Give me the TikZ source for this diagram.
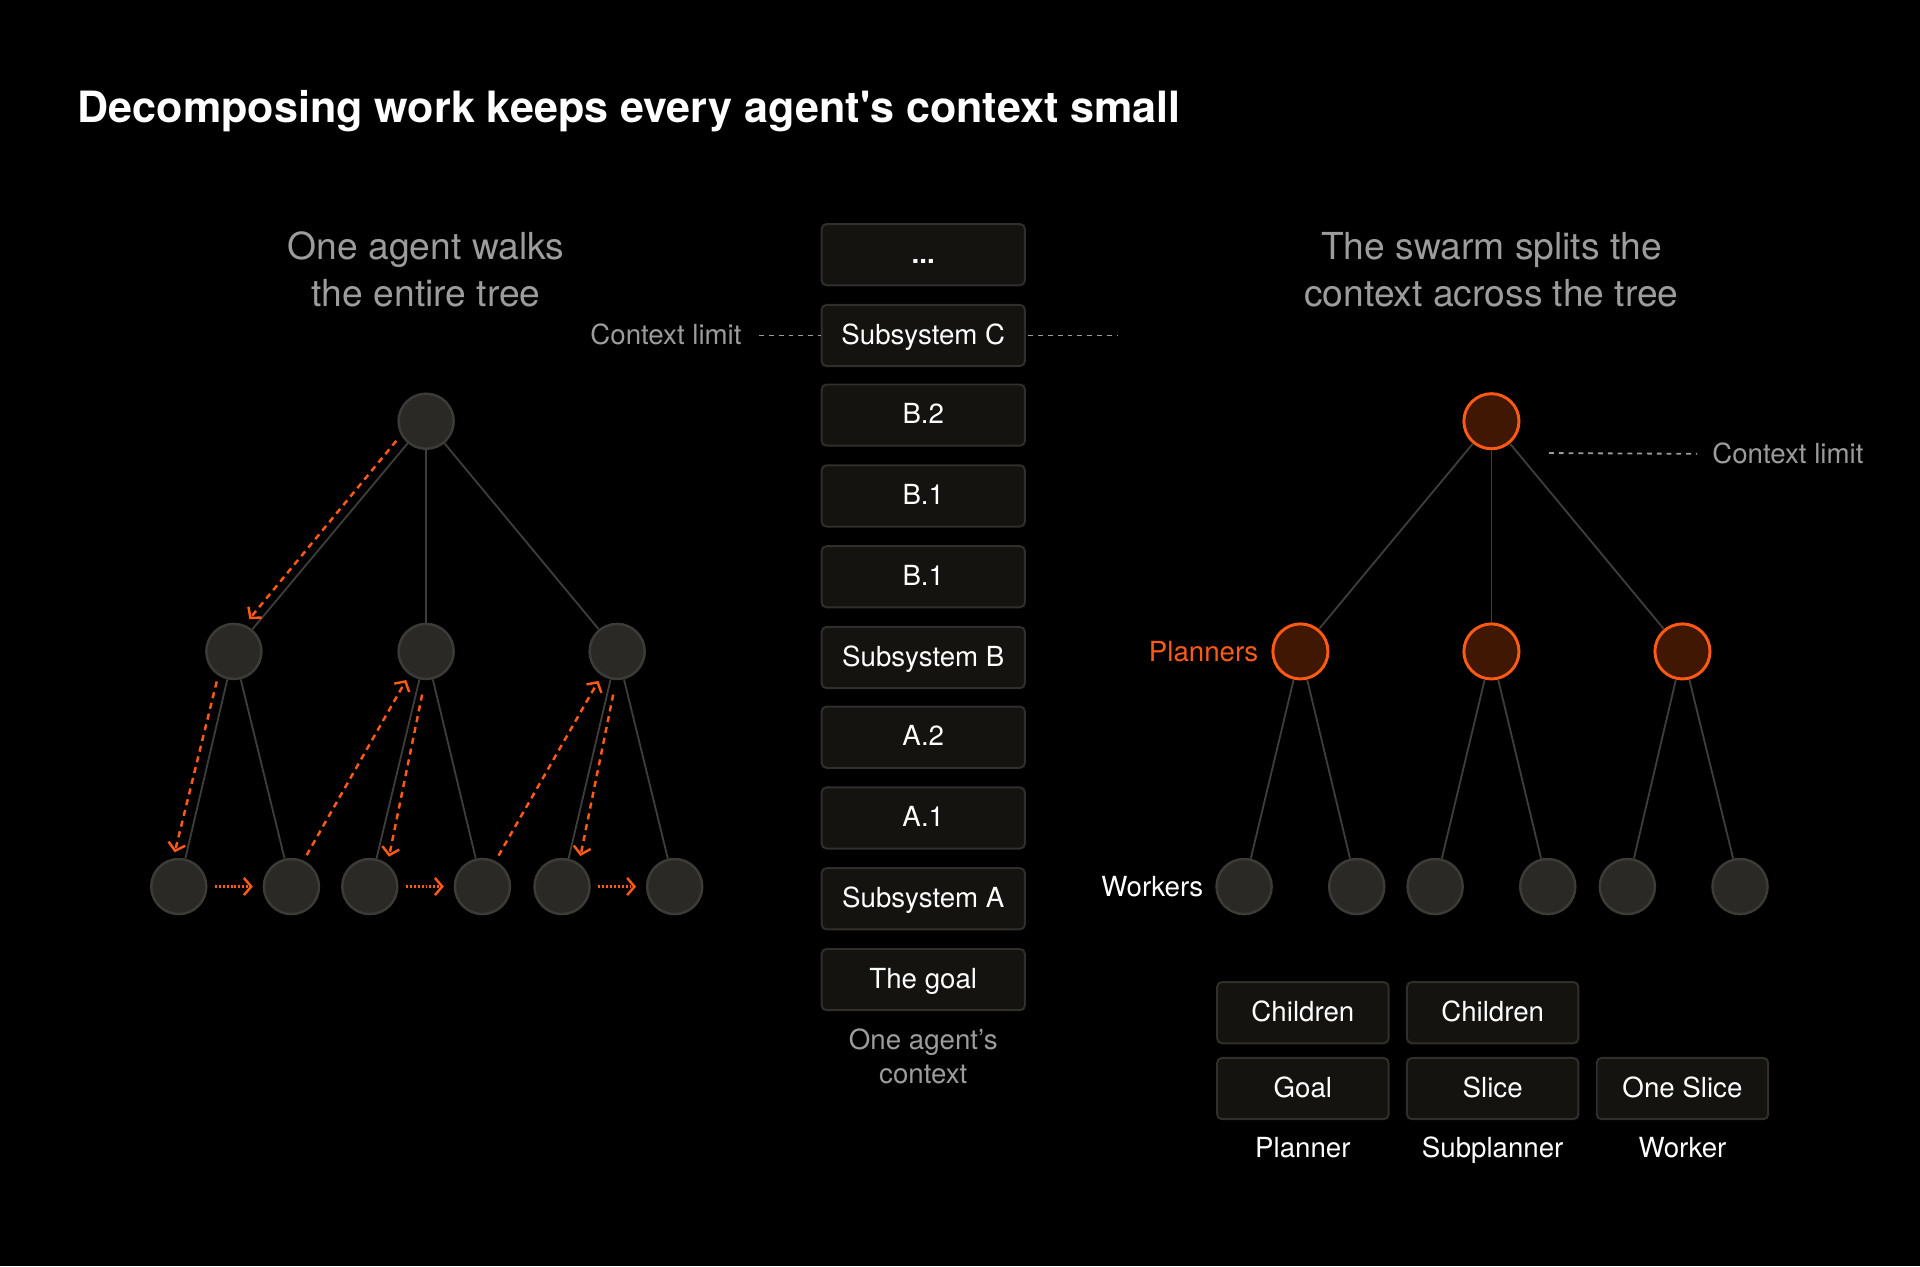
\documentclass[tikz,border=0pt]{standalone}
\usepackage{fontspec}
\setmainfont{TeX Gyre Heros}
\usetikzlibrary{arrows.meta}
\definecolor{orng}{HTML}{FF5A14}
\definecolor{planfill}{HTML}{3F1703}
\definecolor{nodefill}{HTML}{2A2925}
\definecolor{nodeline}{HTML}{3C3B37}
\definecolor{edgegrey}{HTML}{3E3D39}
\definecolor{boxfill}{HTML}{14130F}
\definecolor{boxline}{HTML}{302F2B}
\definecolor{greytext}{HTML}{9C9C9C}
\newcommand{\bodyfont}{\fontsize{11.3}{13}\selectfont}
\newcommand{\headfont}{\fontsize{15.2}{19}\selectfont}
\newcommand{\titlefont}{\fontsize{17.6}{21}\selectfont\bfseries}
\tikzset{
  txt/.style={inner sep=3pt, text height=0.72em, text depth=0pt, font=\bodyfont, text=white},
  agent/.style={circle, minimum size=22.5pt, inner sep=0pt, fill=nodefill, draw=nodeline, line width=1pt},
  planner/.style={agent, fill=planfill, draw=orng, line width=1.2pt},
  edge/.style={draw=edgegrey, line width=0.75pt},
  walk/.style={draw=orng, line width=1pt, dash pattern=on 2.5pt off 2pt, -{Straight Barb[length=3pt,width=7pt]}},
  hop/.style={draw=orng, line width=1pt, dash pattern=on 0.8pt off 0.8pt, -{Straight Barb[length=3pt,width=7pt]}, shorten <=3pt, shorten >=4pt},
  limit/.style={draw=greytext, line width=0.75pt, dash pattern=on 2pt off 2pt},
  ctxbox/.style={txt, draw=boxline, fill=boxfill, rounded corners=2pt, line width=0.8pt, minimum width=83pt, minimum height=25pt},
  slotbox/.style={ctxbox, minimum width=70pt}
}
\begin{document}
\begin{tikzpicture}[x=0.5pt,y=-0.5pt]
  \fill[black] (0,0) rectangle (1568,1034);
  \useasboundingbox (0,0) rectangle (1568,1034);

  \node[txt, anchor=west, font=\titlefont] (title) at (57,93) {Decomposing work keeps every agent\textquotesingle s context small};

  % one agent walks the tree
  \node[txt, font=\headfont, text=greytext] (lhead1) at (348,205) {One agent walks};
  \node[txt, font=\headfont, text=greytext] (lhead2) at (348,243) {the entire tree};

  \node[agent] (r) at (348,344) {};
  \node[agent] (m1) at (191,532) {};
  \node[agent] (m2) at (348,532) {};
  \node[agent] (m3) at (504,532) {};
  \node[agent] (l1) at (146,724) {};
  \node[agent] (l2) at (238,724) {};
  \node[agent] (l3) at (302,724) {};
  \node[agent] (l4) at (394,724) {};
  \node[agent] (l5) at (459,724) {};
  \node[agent] (l6) at (551,724) {};

  \draw[edge] (r) -- (m1);
  \draw[edge] (r) -- (m2);
  \draw[edge] (r) -- (m3);
  \draw[edge] (m1) -- (l1);
  \draw[edge] (m1) -- (l2);
  \draw[edge] (m2) -- (l3);
  \draw[edge] (m2) -- (l4);
  \draw[edge] (m3) -- (l5);
  \draw[edge] (m3) -- (l6);

  \draw[walk, shorten <=3pt, shorten >=3pt] (r.209) -- (m1.68);
  \draw[walk, shorten <=2.5pt, shorten >=2.5pt] (m1.237) -- (l1.101);
  \draw[walk, shorten <=2.5pt, shorten >=2.5pt] (l2.65) -- (m2.234);
  \draw[walk, shorten <=6pt, shorten >=3pt] (m2.268) -- (l3.52);
  \draw[walk, shorten <=2.5pt, shorten >=2.5pt] (l4.63) -- (m3.237);
  \draw[walk, shorten <=6pt, shorten >=3pt] (m3.268) -- (l5.54);
  \draw[hop] (l1) -- (l2);
  \draw[hop] (l3) -- (l4);
  \draw[hop] (l5) -- (l6);

  % one agent's context
  \node[ctxbox] (c9) at (754,208) {\textbf{...}};
  \node[ctxbox] (c8) at (754,274) {Subsystem C};
  \node[ctxbox] (c7) at (754,339) {B.2};
  \node[ctxbox] (c6) at (754,405) {B.1};
  \node[ctxbox] (c5) at (754,471) {B.1};
  \node[ctxbox] (c4) at (754,537) {Subsystem B};
  \node[ctxbox] (c3) at (754,602) {A.2};
  \node[ctxbox] (c2) at (754,668) {A.1};
  \node[ctxbox] (c1) at (754,734) {Subsystem A};
  \node[ctxbox] (c0) at (754,800) {The goal};
  \node[txt, text=greytext] (cap1) at (754,850) {One agent’s};
  \node[txt, text=greytext] (cap2) at (754,878) {context};

  \node[txt, anchor=east, text=greytext] (limL) at (612,274) {Context limit};
  \coordinate (limR) at (913,274);
  \draw[limit, shorten <=4pt] (limL) -- (c8);
  \draw[limit, shorten <=1pt] (c8) -- (limR);

  % the swarm
  \node[txt, font=\headfont, text=greytext] (rhead1) at (1218,205) {The swarm splits the};
  \node[txt, font=\headfont, text=greytext] (rhead2) at (1218,243) {context across the tree};

  \node[planner] (sr) at (1218,344) {};
  \node[planner] (sp1) at (1062,532) {};
  \node[planner] (sp2) at (1218,532) {};
  \node[planner] (sp3) at (1374,532) {};
  \node[agent] (sw1) at (1016,724) {};
  \node[agent] (sw2) at (1108,724) {};
  \node[agent] (sw3) at (1172,724) {};
  \node[agent] (sw4) at (1264,724) {};
  \node[agent] (sw5) at (1329,724) {};
  \node[agent] (sw6) at (1421,724) {};

  \draw[edge] (sr) -- (sp1);
  \draw[edge] (sr) -- (sp2);
  \draw[edge] (sr) -- (sp3);
  \draw[edge] (sp1) -- (sw1);
  \draw[edge] (sp1) -- (sw2);
  \draw[edge] (sp2) -- (sw3);
  \draw[edge] (sp2) -- (sw4);
  \draw[edge] (sp3) -- (sw5);
  \draw[edge] (sp3) -- (sw6);

  \coordinate (limS) at (1265,370);
  \node[txt, anchor=west, text=greytext] (limT) at (1392,371) {Context limit};
  \draw[limit, shorten >=3pt] (limS) -- (limT);

  \node[txt, anchor=east, text=orng] (plan) at (1034,533) {Planners};
  \node[txt, anchor=east] (work) at (989,725) {Workers};

  \node[slotbox] (kid1) at (1064,827) {Children};
  \node[slotbox] (kid2) at (1219,827) {Children};
  \node[slotbox] (goal) at (1064,889) {Goal};
  \node[slotbox] (slice) at (1219,889) {Slice};
  \node[slotbox] (one) at (1374,889) {One Slice};
  \node[txt] (lplan) at (1064,938) {Planner};
  \node[txt] (lsub) at (1219,938) {Subplanner};
  \node[txt] (lwork) at (1374,938) {Worker};
\end{tikzpicture}
\end{document}
